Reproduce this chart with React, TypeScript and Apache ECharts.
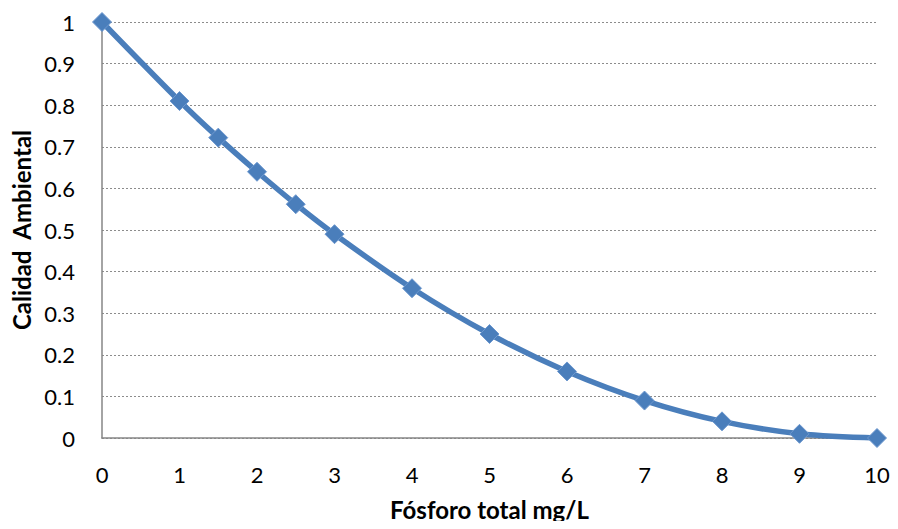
import React, { useEffect, useRef } from "react";
import * as echarts from "echarts";

const phosphorus = [0, 1, 1.5, 2, 2.5, 3, 4, 5, 6, 7, 8, 9, 10];
const quality = [1, 0.81, 0.722, 0.64, 0.562, 0.49, 0.36, 0.25, 0.16, 0.09, 0.04, 0.01, 0];
const xTicks = { min: 0, max: 10, interval: 1 };
const yTicks = { min: 0, max: 1, interval: 0.1 };
const xName = "Fósforo total mg/L";
const yName = "Calidad  Ambiental";

const FONT = "Lato, 'Open Sans', sans-serif";

export default function App() {
  const ref = useRef<HTMLDivElement>(null);
  useEffect(() => {
    if (!ref.current) return;
    const chart = echarts.init(ref.current, undefined, { renderer: "svg" });
    chart.setOption({
      animation: false,
      backgroundColor: "#ffffff",
      grid: { left: 102, right: 21, top: 22, bottom: 91, containLabel: false },
      xAxis: {
        type: "value",
        min: xTicks.min,
        max: xTicks.max,
        interval: xTicks.interval,
        name: xName,
        nameLocation: "middle",
        nameGap: 59,
        nameTextStyle: { fontFamily: FONT, fontSize: 24, fontWeight: "bold", color: "#000" },
        axisLine: { show: true, onZero: false, lineStyle: { color: "#868686", width: 1.5 } },
        axisTick: { show: false },
        splitLine: { show: false },
        axisLabel: { fontFamily: FONT, fontSize: 22, color: "#000", margin: 25 },
      },
      yAxis: {
        type: "value",
        min: yTicks.min,
        max: yTicks.max,
        interval: yTicks.interval,
        name: yName,
        nameLocation: "middle",
        nameGap: 68,
        nameRotate: 90,
        nameTextStyle: { fontFamily: FONT, fontSize: 24, fontWeight: "bold", color: "#000" },
        axisLine: { show: true, lineStyle: { color: "#868686", width: 1.5 } },
        axisTick: { show: false },
        splitLine: { show: true, lineStyle: { color: "#8c8c8c", type: [2, 2], width: 1 } },
        axisLabel: { fontFamily: FONT, fontSize: 22, color: "#000", margin: 27 },
      },
      series: [
        {
          type: "line",
          data: phosphorus.map((x, i) => [x, quality[i]]),
          smooth: 0.35,
          symbol: "diamond",
          symbolSize: 19,
          lineStyle: { color: "#4a7ebb", width: 5.5 },
          itemStyle: { color: "#4a7ebb", borderColor: "#6d98cf", borderWidth: 1 },
          clip: false,
        },
      ],
    });
    return () => chart.dispose();
  }, []);
  return <div ref={ref} style={{ width: 898, height: 529, margin: -8 }} />;
}
